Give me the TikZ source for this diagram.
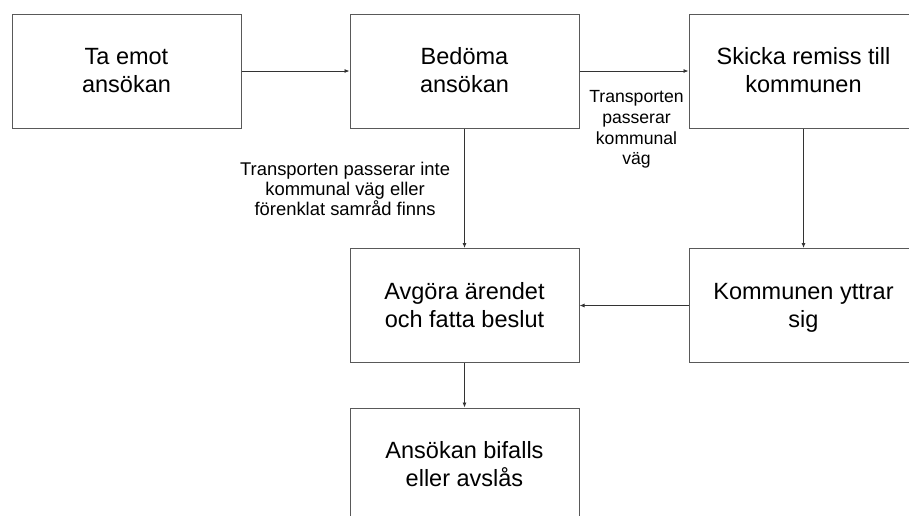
\documentclass[tikz,border=0pt]{standalone}
\usepackage{fontspec}
\setmainfont{Liberation Sans}
\usetikzlibrary{arrows.meta}
\tikzset{
  stepbox/.style={draw=black!65,line width=1pt,minimum width=229pt,minimum height=114pt,
    align=center,font=\fontsize{23.5}{28}\selectfont,inner sep=0pt,
    text height=45pt,text depth=2pt},
  flow/.style={-{Latex[length=5pt,width=4pt]},line width=0.8pt,draw=black!80},
  cond/.style={align=center,font=\fontsize{17.6}{20.8}\selectfont,inner sep=2pt}
}
\begin{document}
\begin{tikzpicture}[x=1pt,y=-1pt]
   \clip (0,0) rectangle (909,515);
   \fill[white] (0,0) rectangle (909,515);
   \node[stepbox] (emot) at (126.5,71) {Ta emot\\ansökan};
   \node[stepbox] (bedoma) at (464.5,71) {Bedöma\\ansökan};
   \node[stepbox] (remiss) at (803.5,71) {Skicka remiss till\\kommunen};
   \node[stepbox] (avgora) at (464.5,305.5) {Avgöra ärendet\\och fatta beslut};
   \node[stepbox] (yttrar) at (803.5,305.5) {Kommunen yttrar\\sig};
   \node[stepbox] (beslut) at (464.5,465) {Ansökan bifalls\\eller avslås};
  %
   \draw[flow] (emot) -- (bedoma);
   \draw[flow] (bedoma) -- node[cond,below,xshift=2.5pt,yshift=-17pt] {Transporten\\passerar\\kommunal\\väg} (remiss);
   \draw[flow] (bedoma) -- node[cond,left,xshift=-12pt,yshift=-1pt,font=\fontsize{18.4}{20}\selectfont] {Transporten passerar inte\\kommunal väg eller\\förenklat samråd finns} (avgora);
   \draw[flow] (remiss) -- (yttrar);
   \draw[flow] (yttrar) -- (avgora);
   \draw[flow] (avgora) -- (beslut);
\end{tikzpicture}
\end{document}
